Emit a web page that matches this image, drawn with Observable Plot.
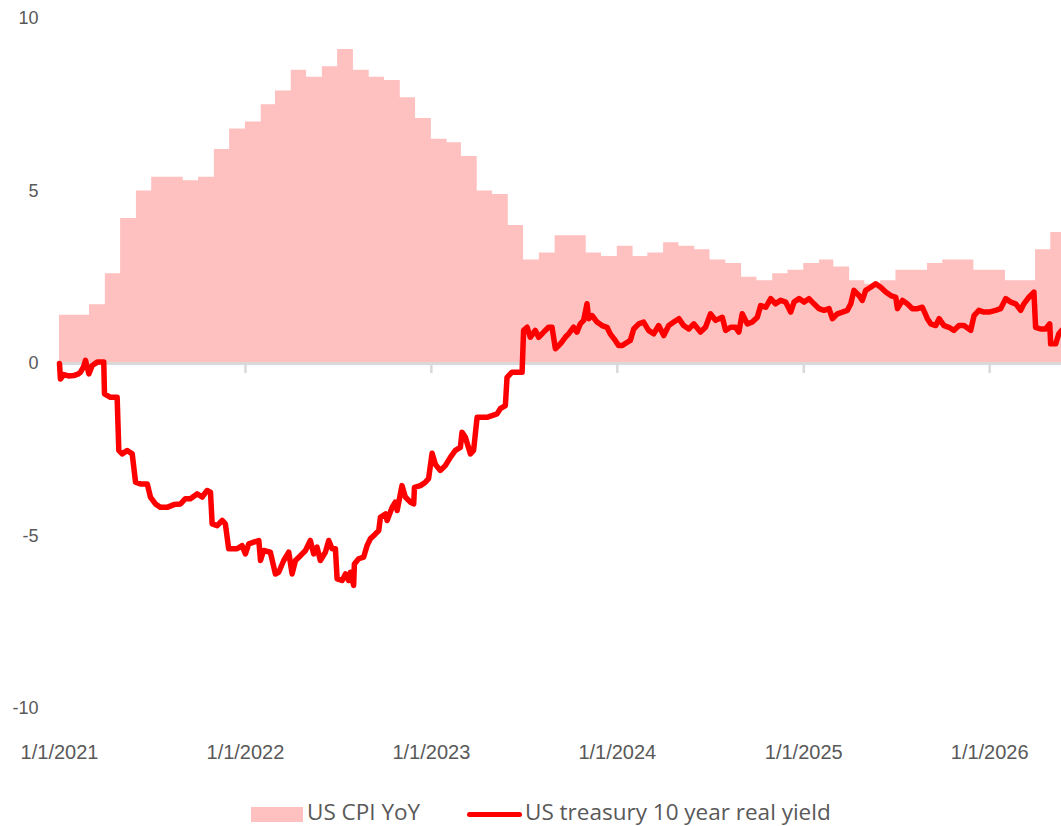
<!DOCTYPE html>
<html>
<head>
<meta charset="utf-8">
<script src="https://cdn.jsdelivr.net/npm/d3@7"></script>
<script src="https://cdn.jsdelivr.net/npm/@observablehq/plot@0.6"></script>
<style>
  body { margin: 0; background: #fff; }
  #chart svg { display: block; }
  #legend { position: relative; height: 36px; font-family: "Open Sans", sans-serif; font-size: 22.5px; color: #595959; }
  #legend .sw { position: absolute; left: 251px; top: 17px; width: 52px; height: 15px; background: #ffc0c0; }
  #legend .t1 { position: absolute; left: 307px; top: 7px; line-height: 30px; white-space: nowrap; }
  #legend .ln { position: absolute; left: 467px; top: 21.5px; width: 55px; height: 5px; border-radius: 3px; background: #ff0000; }
  #legend .t2 { position: absolute; left: 525px; top: 7px; line-height: 30px; white-space: nowrap; }
</style>
</head>
<body>
<div id="chart"></div>
<div id="legend">
  <div class="sw"></div><div class="t1">US CPI YoY</div>
  <div class="ln"></div><div class="t2">US treasury 10 year real yield</div>
</div>
<script>
// ---- US CPI YoY (value in effect during each month) ----
const cpiMonths = [
  "2021-01","2021-02","2021-03","2021-04","2021-05","2021-06","2021-07","2021-08","2021-09","2021-10","2021-11","2021-12",
  "2022-01","2022-02","2022-03","2022-04","2022-05","2022-06","2022-07","2022-08","2022-09","2022-10","2022-11","2022-12",
  "2023-01","2023-02","2023-03","2023-04","2023-05","2023-06","2023-07","2023-08","2023-09","2023-10","2023-11","2023-12",
  "2024-01","2024-02","2024-03","2024-04","2024-05","2024-06","2024-07","2024-08","2024-09","2024-10","2024-11","2024-12",
  "2025-01","2025-02","2025-03","2025-04","2025-05","2025-06","2025-07","2025-08","2025-09","2025-10","2025-11","2025-12",
  "2026-01","2026-02","2026-03","2026-04","2026-05"
];
const cpiValues = [
  1.4,1.4,1.7,2.6,4.2,5.0,5.4,5.4,5.3,5.4,6.2,6.8,
  7.0,7.5,7.9,8.5,8.3,8.6,9.1,8.5,8.3,8.2,7.7,7.1,
  6.5,6.4,6.0,5.0,4.9,4.0,3.0,3.2,3.7,3.7,3.2,3.1,
  3.4,3.1,3.2,3.5,3.4,3.3,3.0,2.9,2.5,2.4,2.6,2.7,
  2.9,3.0,2.8,2.4,2.3,2.4,2.7,2.7,2.9,3.0,3.0,2.7,
  2.7,2.4,2.4,3.3,3.8
];

// ---- US treasury 10 year real yield (dates as decimal years) ----
const ryYears = [
  2021.000,2021.005,2021.023,2021.048,2021.077,2021.102,2021.113,2021.129,2021.140,2021.158,2021.176,2021.203,2021.238,
  2021.242,2021.274,2021.310,2021.319,2021.337,2021.364,2021.391,2021.409,2021.435,2021.472,2021.489,2021.516,2021.543,
  2021.579,2021.615,2021.651,2021.677,2021.704,2021.740,2021.767,2021.794,2021.812,2021.821,2021.848,2021.875,2021.892,
  2021.910,2021.955,2021.982,2022.000,2022.018,2022.045,2022.072,2022.081,2022.098,2022.134,2022.161,2022.179,2022.206,
  2022.233,2022.251,2022.269,2022.296,2022.323,2022.349,2022.367,2022.385,2022.403,2022.430,2022.448,2022.466,2022.484,
  2022.493,2022.520,2022.538,2022.555,2022.565,2022.582,2022.586,2022.609,2022.636,2022.654,2022.672,2022.699,2022.717,
  2022.726,2022.753,2022.762,2022.789,2022.806,2022.816,2022.842,2022.860,2022.887,2022.905,2022.909,2022.941,2022.968,
  2022.985,2023.004,2023.022,2023.048,2023.075,2023.102,2023.129,2023.156,2023.165,2023.183,2023.210,2023.227,2023.246,
  2023.273,2023.299,2023.326,2023.353,2023.371,2023.398,2023.407,2023.434,2023.461,2023.488,2023.496,2023.515,2023.532,
  2023.559,2023.577,2023.604,2023.630,2023.649,2023.667,2023.694,2023.720,2023.738,2023.765,2023.783,2023.801,2023.819,
  2023.837,2023.846,2023.864,2023.891,2023.918,2023.945,2023.962,2023.989,2024.007,2024.027,2024.043,2024.070,2024.088,
  2024.115,2024.141,2024.168,2024.195,2024.222,2024.249,2024.276,2024.303,2024.330,2024.356,2024.383,2024.410,2024.446,
  2024.473,2024.500,2024.527,2024.563,2024.581,2024.608,2024.634,2024.652,2024.670,2024.697,2024.724,2024.751,2024.769,
  2024.796,2024.823,2024.849,2024.876,2024.903,2024.930,2024.948,2024.975,2025.002,2025.028,2025.055,2025.082,2025.109,
  2025.136,2025.154,2025.181,2025.208,2025.235,2025.253,2025.270,2025.297,2025.315,2025.333,2025.360,2025.387,2025.414,
  2025.441,2025.468,2025.495,2025.504,2025.531,2025.557,2025.584,2025.611,2025.638,2025.665,2025.683,2025.710,2025.728,
  2025.754,2025.781,2025.808,2025.835,2025.862,2025.898,2025.916,2025.942,2025.969,2025.996,2026.032,2026.059,2026.086,
  2026.113,2026.140,2026.167,2026.184,2026.211,2026.238,2026.247,2026.274,2026.301,2026.323,2026.328,2026.355,2026.372,
  2026.387
];
const ryValues = [
  0.00,-0.45,-0.32,-0.36,-0.35,-0.30,-0.25,-0.10,0.09,-0.30,-0.06,0.04,0.04,
  -0.88,-0.98,-0.98,-2.52,-2.62,-2.52,-2.62,-3.44,-3.49,-3.49,-3.87,-4.07,-4.17,
  -4.17,-4.09,-4.07,-3.92,-3.92,-3.78,-3.87,-3.68,-3.73,-4.65,-4.70,-4.55,-4.65,
  -5.37,-5.37,-5.28,-5.52,-5.23,-5.18,-5.13,-5.71,-5.42,-5.47,-6.10,-6.05,-5.71,
  -5.47,-6.10,-5.71,-5.57,-5.42,-5.13,-5.52,-5.32,-5.71,-5.47,-5.13,-5.37,-5.37,
  -6.24,-6.29,-6.10,-6.29,-6.05,-6.43,-5.81,-5.66,-5.61,-5.28,-5.08,-4.94,-4.84,
  -4.46,-4.36,-4.55,-4.17,-4.02,-4.26,-3.54,-3.87,-4.02,-4.07,-3.59,-3.54,-3.44,
  -3.34,-2.60,-2.93,-3.10,-2.96,-2.72,-2.52,-2.43,-1.99,-2.14,-2.62,-2.52,-1.56,
  -1.56,-1.56,-1.51,-1.46,-1.31,-1.22,-0.40,-0.25,-0.25,-0.25,0.96,1.05,0.76,
  0.96,0.76,0.91,1.05,1.05,0.43,0.57,0.76,0.86,1.05,0.91,1.15,1.25,
  1.73,1.30,1.39,1.20,1.10,1.05,0.86,0.67,0.52,0.52,0.58,0.67,1.00,
  1.15,1.20,0.96,0.86,1.10,0.81,1.10,1.20,1.30,1.10,1.00,1.15,0.91,
  1.05,1.44,1.25,1.34,0.96,1.05,1.05,0.91,1.44,1.15,1.20,1.34,1.68,
  1.63,1.88,1.73,1.83,1.78,1.49,1.78,1.88,1.78,1.88,1.73,1.59,1.54,
  1.59,1.30,1.44,1.49,1.54,1.73,2.12,1.97,1.83,2.12,2.21,2.31,2.21,
  2.07,1.97,1.92,1.59,1.83,1.73,1.59,1.59,1.63,1.30,1.15,1.10,1.30,
  1.10,1.05,0.96,1.10,1.10,0.96,1.39,1.54,1.49,1.49,1.54,1.59,1.88,
  1.78,1.73,1.54,1.73,1.92,2.07,1.05,1.00,1.00,1.15,0.57,0.57,0.86,
  0.96
];

// ---- axes ----
const yTicks = [-10, -5, 0, 5, 10];
const xTickDates = ["2021-01-01","2022-01-01","2023-01-01","2024-01-01","2025-01-01","2026-01-01"];
const xTickLabels = ["1/1/2021","1/1/2022","1/1/2023","1/1/2024","1/1/2025","1/1/2026"];
const xDomain = ["2021-01-01", "2026-05-22"];

// ---- build tables ----
const fromDecimalYear = (t) => {
  const y = Math.floor(t);
  const s = Date.UTC(y, 0, 1), e = Date.UTC(y + 1, 0, 1);
  return new Date(s + (t - y) * (e - s));
};
const endDate = new Date(xDomain[1]);
const cpiRows = cpiMonths.map((m, i) => ({date: new Date(m + "-01"), value: cpiValues[i]}));
cpiRows.push({date: endDate, value: cpiValues[cpiValues.length - 1]});
const ryRows = ryYears.map((t, i) => ({date: fromDecimalYear(t), value: ryValues[i]}));
const tickDates = xTickDates.map((d) => new Date(d));

const chart = Plot.plot({
  width: 1061,
  height: 790,
  marginLeft: 59,
  marginRight: 0,
  marginTop: 18,
  marginBottom: 82,
  style: {fontFamily: "'Liberation Sans', Arial, sans-serif", background: "#fff"},
  x: {type: "utc", domain: xDomain.map((d) => new Date(d)), label: null},
  y: {domain: [-10, 10], label: null},
  marks: [
    Plot.areaY(cpiRows, {x: "date", y: "value", curve: "step-after", fill: "#ffc0c0"}),
    Plot.ruleY([0], {stroke: "#d9d9d9", strokeWidth: 3}),
    Plot.ruleX(tickDates, {x: (d) => d, y1: 0, y2: 0, insetBottom: -10, stroke: "#d9d9d9", strokeWidth: 2.5}),
    Plot.line(ryRows, {x: "date", y: "value", stroke: "#ff0000", strokeWidth: 5.5, strokeLinejoin: "round", strokeLinecap: "round"}),
    Plot.axisY(yTicks, {anchor: "left", label: null, tickSize: 0, tickPadding: 21, fontSize: 18, fill: "#595959", tickFormat: (d) => String(d)}),
    Plot.axisX(tickDates, {anchor: "bottom", label: null, tickSize: 0, tickPadding: 36, fontSize: 20, fill: "#595959", tickFormat: (d, i) => xTickLabels[i]})
  ]
});
document.getElementById("chart").append(chart);
</script>
</body>
</html>
